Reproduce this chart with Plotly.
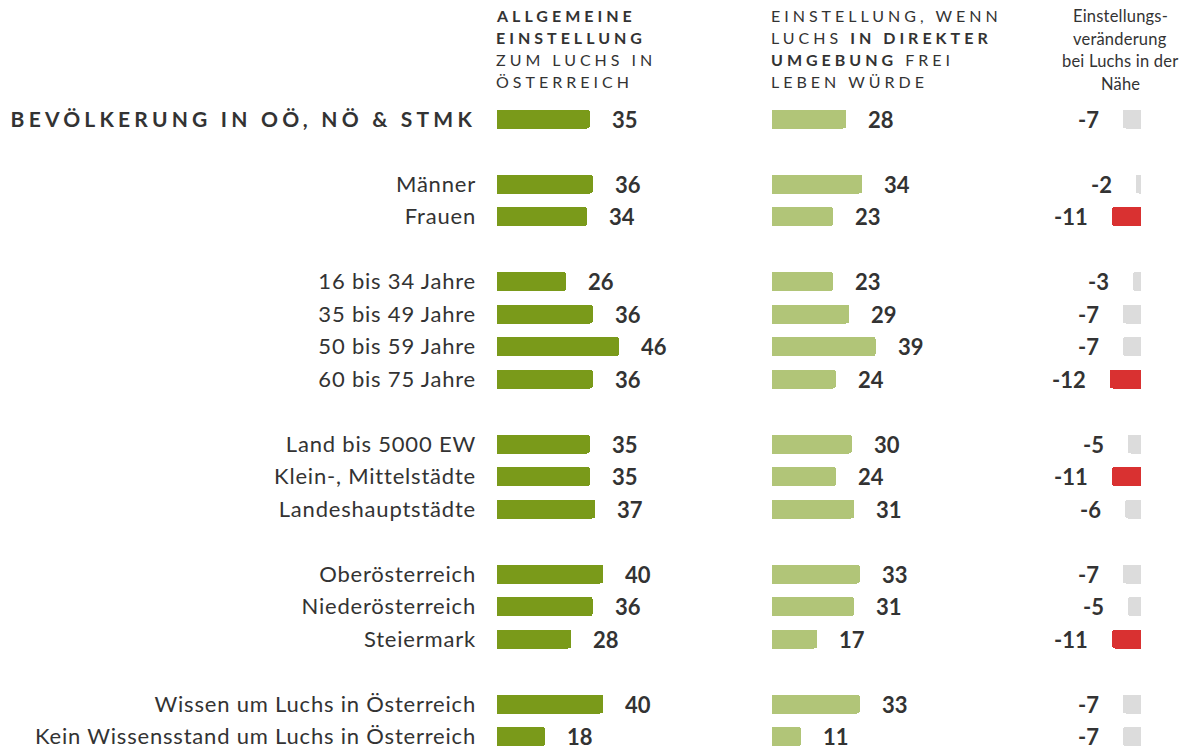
import plotly.graph_objects as go

# ---------------- data ----------------
categories = [
    "BEVÖLKERUNG IN OÖ, NÖ & STMK",
    "Männer", "Frauen",
    "16 bis 34 Jahre", "35 bis 49 Jahre", "50 bis 59 Jahre", "60 bis 75 Jahre",
    "Land bis 5000 EW", "Klein-, Mittelstädte", "Landeshauptstädte",
    "Oberösterreich", "Niederösterreich", "Steiermark",
    "Wissen um Luchs in Österreich", "Kein Wissensstand um Luchs in Österreich",
]
group_sizes = [1, 2, 4, 3, 3, 2]
general = [35, 36, 34, 26, 36, 46, 36, 35, 35, 37, 40, 36, 28, 40, 18]
direct = [28, 34, 23, 23, 29, 39, 24, 30, 24, 31, 33, 31, 17, 33, 11]
change = [-7, -2, -11, -3, -7, -7, -12, -5, -11, -6, -7, -5, -11, -7, -7]

header1 = [("ALLGEMEINE", True), ("EINSTELLUNG", True), ("ZUM LUCHS IN", False), ("ÖSTERREICH", False)]
header2 = ["EINSTELLUNG, WENN", "LUCHS <b>IN DIREKTER</b>", "<b>UMGEBUNG</b> FREI", "LEBEN WÜRDE"]
header3 = ["Einstellungs-", "veränderung", "bei Luchs in der", "Nähe"]

# ---------------- styling ----------------
W, H = 1190, 750
FONT = "Lato, 'Open Sans', sans-serif"
TXT = "#333333"
C_GEN = "#7a9a1a"
C_DIR = "#b1c578"
C_GREY = "#dcdcdc"
C_RED = "#d93131"

# row positions (blank row between groups)
rows = []
r = 0
for gs in group_sizes:
    for _ in range(gs):
        rows.append(r)
        r += 1
    r += 1

ROW0_PX, ROW_PX = 119, 32.5
y_top = -ROW0_PX / ROW_PX
y_bot = (H - ROW0_PX) / ROW_PX
BAR_W = 19 / ROW_PX

K = 2.66    # px per unit, green columns
K3 = 2.62   # px per unit, change column
x1a, x1b = 497, 760
x2a, x2b = 772, 1040
x3a, x3b = 1045, 1141

change_colors = [C_RED if v <= -10 else C_GREY for v in change]

fig = go.Figure()
fig.add_trace(go.Bar(x=general, y=rows, orientation="h", xaxis="x", yaxis="y",
                     width=BAR_W, marker=dict(color=C_GEN, cornerradius=3, line=dict(width=0)),
                     hoverinfo="skip"))
fig.add_trace(go.Bar(x=direct, y=rows, orientation="h", xaxis="x2", yaxis="y",
                     width=BAR_W, marker=dict(color=C_DIR, cornerradius=3, line=dict(width=0)),
                     hoverinfo="skip"))
fig.add_trace(go.Bar(x=change, y=rows, orientation="h", xaxis="x3", yaxis="y",
                     width=BAR_W, marker=dict(color=change_colors, cornerradius=3, line=dict(width=0)),
                     hoverinfo="skip"))

annotations = []
for v, yy in zip(general, rows):
    annotations.append(dict(x=v, y=yy, xref="x", yref="y", text=f"<b>{v}</b>", showarrow=False,
                            xanchor="left", yanchor="middle", xshift=20,
                            font=dict(family=FONT, size=22, color=TXT)))
for v, yy in zip(direct, rows):
    annotations.append(dict(x=v, y=yy, xref="x2", yref="y", text=f"<b>{v}</b>", showarrow=False,
                            xanchor="left", yanchor="middle", xshift=20,
                            font=dict(family=FONT, size=22, color=TXT)))
for v, yy in zip(change, rows):
    annotations.append(dict(x=v, y=yy, xref="x3", yref="y", text=f"<b>{v}</b>", showarrow=False,
                            xanchor="right", yanchor="middle", xshift=-22,
                            font=dict(family=FONT, size=22, color=TXT)))

LS = 22.3
HEAD_Y0 = 15.0
sp = "letter-spacing:4px"
for i, (t, bold) in enumerate(header1):
    txt = f"<span style='{sp}'>{'<b>' + t + '</b>' if bold else t}</span>"
    annotations.append(dict(x=x1a / W, y=1 - (HEAD_Y0 + i * LS) / H, xref="paper", yref="paper",
                            text=txt, showarrow=False, xanchor="left", yanchor="middle", xshift=-3,
                            font=dict(family=FONT, size=16, color=TXT)))
for i, t in enumerate(header2):
    txt = f"<span style='{sp}'>{t}</span>"
    annotations.append(dict(x=x2a / W, y=1 - (HEAD_Y0 + i * LS) / H, xref="paper", yref="paper",
                            text=txt, showarrow=False, xanchor="left", yanchor="middle", xshift=-3,
                            font=dict(family=FONT, size=16, color=TXT)))
for i, t in enumerate(header3):
    annotations.append(dict(x=1120 / W, y=1 - (HEAD_Y0 + 1 + i * 22.6) / H, xref="paper", yref="paper",
                            text=f"<span style='letter-spacing:0.2px'>{t}</span>", showarrow=False,
                            xanchor="center", yanchor="middle",
                            font=dict(family=FONT, size=16.5, color=TXT)))

ticktext = [f"<b><span style='letter-spacing:4.2px;font-size:21px'>{categories[0]}</span></b>"] + \
           [f"<span style='letter-spacing:0.8px'>{c}</span>" for c in categories[1:]]

fig.update_layout(
    width=W, height=H,
    margin=dict(l=0, r=0, t=0, b=0, pad=0),
    paper_bgcolor="white", plot_bgcolor="white",
    showlegend=False, bargap=0,
    font=dict(family=FONT, color=TXT),
    xaxis=dict(domain=[x1a / W, x1b / W], range=[0, (x1b - x1a) / K], visible=False, fixedrange=True),
    xaxis2=dict(domain=[x2a / W, x2b / W], range=[0, (x2b - x2a) / K], visible=False, anchor="y",
                fixedrange=True),
    xaxis3=dict(domain=[x3a / W, x3b / W], range=[-(x3b - x3a) / K3, 0], visible=False, anchor="y",
                fixedrange=True),
    yaxis=dict(range=[y_bot, y_top], tickvals=rows, ticktext=ticktext, showgrid=False,
               zeroline=False, showline=False, ticks="", ticklabelstandoff=20,
               tickfont=dict(family=FONT, size=22, color=TXT), fixedrange=True),
    annotations=annotations,
)

fig.write_html("out.html", config={"displayModeBar": False, "staticPlot": True},
               post_script="document.body.style.margin='0px';")
